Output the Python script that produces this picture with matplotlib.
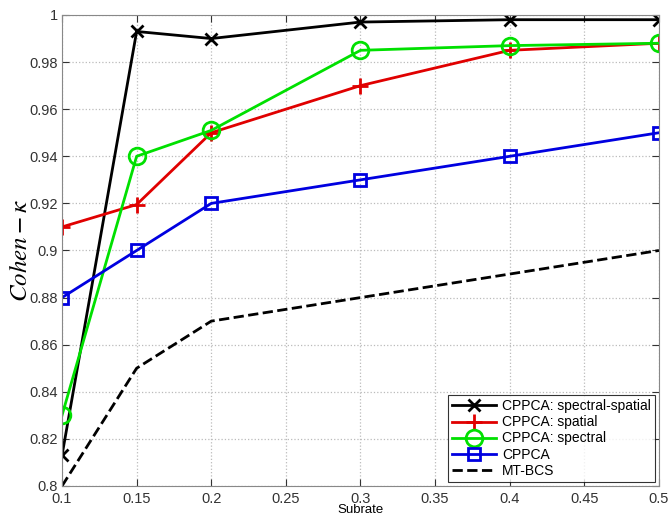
import matplotlib.pyplot as plt
from matplotlib.ticker import FormatStrFormatter

subrate = [0.1, 0.15, 0.2, 0.3, 0.4, 0.5]
spectral_spatial = [0.813, 0.993, 0.990, 0.997, 0.998, 0.998]
spatial = [0.910, 0.9195, 0.950, 0.970, 0.985, 0.988]
spectral = [0.830, 0.940, 0.951, 0.985, 0.987, 0.988]
cppca = [0.880, 0.900, 0.920, 0.930, 0.940, 0.950]
mtbcs = [0.800, 0.850, 0.870, 0.880, 0.890, 0.900]

plt.rcParams['font.family'] = ['Liberation Sans', 'DejaVu Sans']
plt.rcParams['mathtext.fontset'] = 'stix'

fig = plt.figure(figsize=(6.69, 5.17), dpi=100)
ax = fig.add_axes([0.0927, 0.060, 0.8923, 0.911])

ax.plot(subrate, spectral_spatial, 'k-x', lw=2, ms=9, mew=2, label='CPPCA: spectral-spatial')
ax.plot(subrate, spatial, '-+', color='#e00000', lw=2, ms=12, mew=2, label='CPPCA: spatial')
ax.plot(subrate, spectral, '-o', color='#00e000', lw=2, ms=12, mew=2, mfc='none', label='CPPCA: spectral')
ax.plot(subrate, cppca, '-s', color='#0000e0', lw=2, ms=9, mew=2, mfc='none', label='CPPCA')
ax.plot(subrate, mtbcs, 'k--', lw=2, label='MT-BCS')

ax.set_xlim(0.1, 0.5)
ax.set_ylim(0.8, 1.0)
ax.set_xticks([0.1, 0.15, 0.2, 0.25, 0.3, 0.35, 0.4, 0.45, 0.5])
ax.set_yticks([0.8, 0.82, 0.84, 0.86, 0.88, 0.9, 0.92, 0.94, 0.96, 0.98, 1.0])
ax.xaxis.set_major_formatter(FormatStrFormatter('%g'))
ax.yaxis.set_major_formatter(FormatStrFormatter('%g'))
ax.tick_params(direction='in', top=True, right=True, labelsize=10.5, colors='#333333', length=5, pad=3)
ax.tick_params(axis='x', pad=4)
ax.grid(True, linestyle=':', color='#bbbbbb', lw=0.9)
for s in ax.spines.values():
    s.set_color('#888888')

ax.set_xlabel('Subrate', fontsize=9.5, labelpad=-1)
ax.set_ylabel(r'$Cohen-\kappa$', fontsize=18)
ax.yaxis.set_label_coords(-0.05, 0.5)

leg = ax.legend(loc='lower right', fontsize=10, handlelength=3.2, borderaxespad=0.3,
                fancybox=False, edgecolor='black', labelspacing=0.15, handletextpad=0.4,
                borderpad=0.3)
leg.get_frame().set_linewidth(0.8)

fig.savefig('out.png', dpi=100)
